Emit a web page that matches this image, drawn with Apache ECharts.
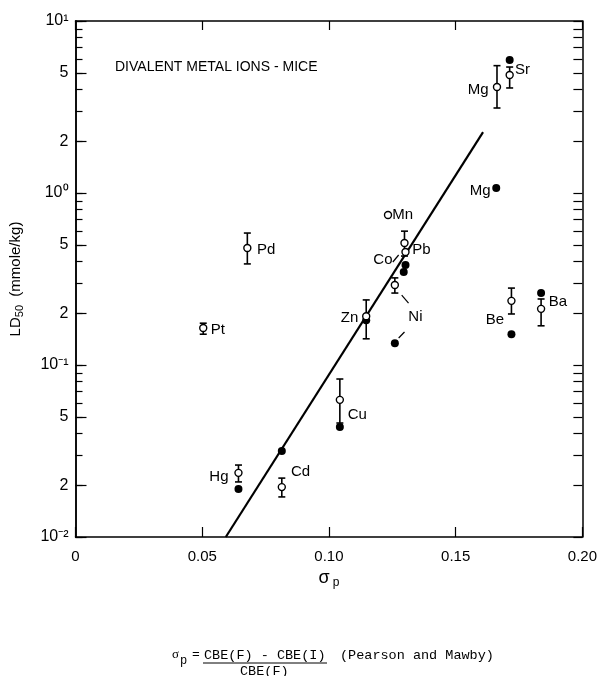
<!DOCTYPE html>
<html>
<head>
<meta charset="utf-8">
<script src="https://cdn.jsdelivr.net/npm/echarts@6/dist/echarts.min.js"></script>
<style>
  html, body { margin: 0; padding: 0; background: #fff; }
  #chart { width: 600px; height: 676px; }
</style>
</head>
<body>
<div id="chart"></div>
<script>
// sigma_p vs LD50 (mmole/kg)
var openPoints = [
  [0.1713, 4.85, 'Sr'], [0.1663, 4.13, 'Mg'], [0.1233, 0.745, 'Mn'],
  [0.1298, 0.512, 'Pb'], [0.1302, 0.454, 'Co'], [0.126, 0.292, 'Ni'],
  [0.1147, 0.192, 'Zn'], [0.0678, 0.479, 'Pd'], [0.0504, 0.164, 'Pt'],
  [0.1043, 0.0627, 'Cu'], [0.172, 0.236, 'Be'], [0.1837, 0.212, 'Ba'],
  [0.0643, 0.0236, 'Hg'], [0.0814, 0.0195, 'Cd']
];
var filledPoints = [
  [0.1713, 5.93, 'Sr'], [0.166, 1.07, 'Mg'], [0.1302, 0.381, 'Pb'],
  [0.1295, 0.347, 'Co'], [0.126, 0.134, 'Ni'], [0.1147, 0.182, 'Zn'],
  [0.1043, 0.0436, 'Cu'], [0.172, 0.151, 'Be'], [0.1837, 0.262, 'Ba'],
  [0.0643, 0.019, 'Hg'], [0.0814, 0.0316, 'Cd']
];
// [x, low, high]
var errorBars = [
  [0.1713, 4.08, 5.4], [0.1663, 3.12, 5.5], [0.1298, 0.43, 0.60],
  [0.126, 0.262, 0.321], [0.1147, 0.142, 0.239], [0.0678, 0.387, 0.585],
  [0.0504, 0.151, 0.175], [0.1043, 0.046, 0.0829], [0.172, 0.198, 0.280],
  [0.1837, 0.169, 0.242], [0.0643, 0.0209, 0.0262], [0.0814, 0.0171, 0.0220]
];
var fitLine = [[0.0593, 0.01], [0.1608, 2.26]];
var pointLabels = [
  [0.1764, 5.19, 'Sr'], [0.1589, 3.97, 'Mg'], [0.1597, 1.03, 'Mg'],
  [0.1291, 0.745, 'Mn'], [0.1365, 0.466, 'Pb'], [0.1213, 0.408, 'Co'],
  [0.1341, 0.190, 'Ni'], [0.1081, 0.188, 'Zn'], [0.1112, 0.0512, 'Cu'],
  [0.1655, 0.183, 'Be'], [0.1903, 0.232, 'Ba'], [0.0752, 0.466, 'Pd'],
  [0.0562, 0.160, 'Pt'], [0.0566, 0.0223, 'Hg'], [0.0888, 0.0239, 'Cd']
];
// leader strokes [x1, y1, x2, y2]
var leaders = [
  [0.1252, 0.397, 0.1275, 0.436],
  [0.1287, 0.255, 0.1314, 0.229],
  [0.1275, 0.1436, 0.1298, 0.1556]
];
var yLabelTicks = [0.01, 0.02, 0.05, 0.1, 0.2, 0.5, 1, 2, 5, 10];
var yAllTicks = [
  0.01, 0.02, 0.03, 0.04, 0.05, 0.06, 0.07, 0.08, 0.09,
  0.1, 0.2, 0.3, 0.4, 0.5, 0.6, 0.7, 0.8, 0.9,
  1, 2, 3, 4, 5, 6, 7, 8, 9, 10
];
var yLabelText = {
  '0.01': '10⁻²', '0.02': '2', '0.05': '5',
  '0.1': '10⁻¹', '0.2': '2', '0.5': '5',
  '1': '10⁰', '2': '2', '5': '5', '10': '10¹'
};

var font = 'Liberation Sans';
var chart = echarts.init(document.getElementById('chart'));

var lineStyleAxis = { color: '#000', width: 1.5 };

function logAxis(extra) {
  var a = {
    type: 'log', logBase: 10, min: 0.01, max: 10,
    splitLine: { show: false },
    axisLine: { show: true, lineStyle: lineStyleAxis },
    axisLabel: { show: false },
    axisTick: { show: true, inside: true, length: 7, customValues: yAllTicks, lineStyle: { color: '#000', width: 1.2 } }
  };
  return Object.assign(a, extra);
}

var option = {
  animation: false,
  backgroundColor: '#fff',
  grid: { left: 73, right: 11, top: 21, bottom: 139 },
  xAxis: [{
    type: 'value', min: 0, max: 0.2, interval: 0.05, position: 'bottom',
    splitLine: { show: false },
    axisLine: { lineStyle: lineStyleAxis },
    axisTick: { inside: true, length: 10, lineStyle: { color: '#000', width: 1.2 } },
    axisLabel: {
      color: '#000', fontFamily: font, fontSize: 15, margin: 12,
      formatter: function (v) { return v === 0 ? '0' : v.toFixed(2); }
    },
    name: '{a|σ} {s|p}', nameLocation: 'middle', nameGap: 30,
    nameTextStyle: {
      rich: {
        a: { fontFamily: font, fontSize: 18, color: '#000', lineHeight: 22 },
        s: { fontFamily: font, fontSize: 12, color: '#000', verticalAlign: 'bottom', lineHeight: 22 }
      }
    }
  }, {
    type: 'value', min: 0, max: 0.2, interval: 0.05, position: 'top',
    splitLine: { show: false },
    axisLine: { lineStyle: lineStyleAxis },
    axisTick: { inside: true, length: 9, lineStyle: { color: '#000', width: 1.2 } },
    axisLabel: { show: false }
  }],
  yAxis: [
    logAxis({
      position: 'left',
      axisTick: { show: true, inside: true, length: 11, customValues: yLabelTicks, lineStyle: { color: '#000', width: 1.2 } },
      axisLabel: {
        show: true, customValues: yLabelTicks, color: '#000', fontFamily: font, fontSize: 16, margin: 7,
        formatter: function (v) { return yLabelText[String(v)] || String(v); }
      },
      name: '{a|LD}{s|50}{a|  (mmole/kg)}', nameLocation: 'middle', nameGap: 50, nameRotate: 90,
      nameTextStyle: {
        rich: {
          a: { fontFamily: font, fontSize: 15, color: '#000', lineHeight: 20 },
          s: { fontFamily: font, fontSize: 11, color: '#000', verticalAlign: 'bottom', lineHeight: 20 }
        }
      }
    }),
    logAxis({ position: 'left' }),
    logAxis({ position: 'right', axisTick: { show: true, inside: true, length: 9, customValues: yAllTicks, lineStyle: { color: '#000', width: 1.2 } } })
  ],
  series: [
    {
      type: 'line', data: fitLine, symbol: 'none', silent: true,
      lineStyle: { color: '#000', width: 2.2 }, z: 2
    },
    {
      type: 'custom', data: errorBars, encode: { x: 0, y: [1, 2] }, z: 3, silent: true,
      renderItem: function (params, api) {
        var x = api.value(0);
        var lo = api.coord([x, api.value(1)]);
        var hi = api.coord([x, api.value(2)]);
        var w = 3.5;
        var st = { stroke: '#000', lineWidth: 1.6 };
        return {
          type: 'group', children: [
            { type: 'line', shape: { x1: lo[0], y1: lo[1], x2: hi[0], y2: hi[1] }, style: st },
            { type: 'line', shape: { x1: lo[0] - w, y1: lo[1], x2: lo[0] + w, y2: lo[1] }, style: st },
            { type: 'line', shape: { x1: hi[0] - w, y1: hi[1], x2: hi[0] + w, y2: hi[1] }, style: st }
          ]
        };
      }
    },
    {
      type: 'custom', data: leaders, encode: { x: [0, 2], y: [1, 3] }, z: 3, silent: true,
      renderItem: function (params, api) {
        var a = api.coord([api.value(0), api.value(1)]);
        var b = api.coord([api.value(2), api.value(3)]);
        return { type: 'line', shape: { x1: a[0], y1: a[1], x2: b[0], y2: b[1] }, style: { stroke: '#000', lineWidth: 1.2 } };
      }
    },
    {
      type: 'scatter', data: filledPoints, symbol: 'circle', symbolSize: 8, z: 4,
      itemStyle: { color: '#000', opacity: 1 }
    },
    {
      type: 'scatter', data: openPoints, symbol: 'circle', symbolSize: 7, z: 5,
      itemStyle: { color: '#fff', borderColor: '#000', borderWidth: 1.4, opacity: 1 }
    },
    {
      type: 'scatter', data: pointLabels, symbolSize: 0, z: 6, silent: true,
      itemStyle: { opacity: 1 },
      label: {
        show: true, position: 'inside', color: '#000', fontFamily: font, fontSize: 15,
        formatter: function (p) { return p.data[2]; }
      }
    }
  ],
  graphic: [
    { type: 'text', left: 115, top: 60, style: { text: 'DIVALENT METAL IONS - MICE', fontFamily: font, fontSize: 14, fill: '#000' } },
    // formula beneath the chart
    { type: 'text', left: 172, top: 648, style: { text: 'σ', fontFamily: 'Liberation Serif', fontSize: 13, fill: '#000' } },
    { type: 'text', left: 180, top: 655, style: { text: 'p', fontFamily: 'Liberation Mono', fontSize: 12, fill: '#000' } },
    { type: 'text', left: 192, top: 648, style: { text: '=', fontFamily: 'Liberation Mono', fontSize: 13, fill: '#000' } },
    { type: 'text', left: 204, top: 648, style: { text: 'CBE(F) - CBE(I)', fontFamily: 'Liberation Mono', fontSize: 13.5, fill: '#000' } },
    { type: 'line', shape: { x1: 203, y1: 663, x2: 327, y2: 663 }, style: { stroke: '#000', lineWidth: 1 } },
    { type: 'text', left: 240, top: 664, style: { text: 'CBE(F)', fontFamily: 'Liberation Mono', fontSize: 13.5, fill: '#000' } },
    { type: 'text', left: 340, top: 648, style: { text: '(Pearson and Mawby)', fontFamily: 'Liberation Mono', fontSize: 13.5, fill: '#000' } }
  ]
};

chart.setOption(option);
</script>
</body>
</html>
